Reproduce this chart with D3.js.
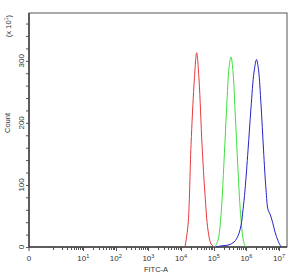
<!DOCTYPE html>
<html><head><meta charset="utf-8">
<script src="https://cdn.jsdelivr.net/npm/d3@7"></script>
<style>body{margin:0;background:#fff}svg{display:block}text{font-family:"Liberation Sans",Arial,sans-serif;fill:#333}</style>
</head><body><div id="chart"></div>
<script>
// FITC-A value, count (x10)
const redFitc   = [1.32e4,1.63e4,2.02e4,2.49e4,3.01e4,3.55e4,4.38e4,5.41e4,6.68e4,8.26e4,1.02e5];
const redCount  = [0,35,165,261,313,269,165,84,27,5,0];
const greenFitc = [1.09e5,1.35e5,1.67e5,2.07e5,2.55e5,2.94e5,3.38e5,3.89e5,4.48e5,5.53e5,6.84e5,8.45e5,9.73e5];
const greenCount= [0,11,52,140,237,289,306,282,221,124,44,6,0];
const blueFitc  = [1.17e5,1.79e5,2.74e5,4.18e5,5.53e5,6.84e5,7.87e5,9.06e5,1.12e6,1.38e6,1.71e6,2.04e6,2.35e6,2.80e6,3.34e6,3.98e6,4.59e6,5.28e6,6.31e6,7.52e6,9.29e6,1.15e7];
const blueCount = [0,2,3,8,18,35,60,92,156,224,282,302,285,229,156,92,60,53,40,24,10,0];
const yTicks = [0,100,200,300];
const xDecades = [1,2,3,4,5,6,7];

const W=292,H=275, L=29,R=287,T=13,B=247;
const svg=d3.select("#chart").append("svg").attr("width",W).attr("height",H);
const x=d3.scaleSymlog().constant(0.222).domain([0,1.745e7]).range([L,R]);
const y=d3.scaleLinear().domain([0,377]).range([B,T]);

// frame
svg.append("rect").attr("x",L).attr("y",T).attr("width",R-L).attr("height",B-T)
  .attr("fill","none").attr("stroke","#555").attr("stroke-width",1);

// y minor/major ticks
const yMinor=d3.range(0,377,20);
svg.selectAll(".ym").data(yMinor).join("line")
  .attr("x1",L-3).attr("x2",L).attr("y1",d=>y(d)+0.5).attr("y2",d=>y(d)+0.5)
  .attr("stroke","#555");
svg.selectAll(".yl").data(yTicks).join("text")
  .attr("transform",d=>`translate(23.5,${y(d)}) rotate(-90)`)
  .attr("text-anchor","middle").attr("font-size",8).text(d=>d);

// x ticks
const xMinor=[];
for(let k=0;k<7;k++) for(let m=1;m<10;m++) xMinor.push(m*Math.pow(10,k));
xMinor.push(1e7);
svg.selectAll(".xm").data(xMinor).join("line")
  .attr("x1",d=>Math.round(x(d))+0.5).attr("x2",d=>Math.round(x(d))+0.5)
  .attr("y1",B).attr("y2",d=>Math.log10(d)%1===0&&d>=10?B+4:B+3)
  .attr("stroke","#555");
svg.append("line").attr("x1",L).attr("x2",L).attr("y1",B).attr("y2",B+4).attr("stroke","#555");
svg.append("text").attr("x",L).attr("y",261).attr("text-anchor","middle").attr("font-size",8).text("0");
const xl=svg.selectAll(".xl").data(xDecades).join("text")
  .attr("x",d=>x(Math.pow(10,d))).attr("y",261).attr("text-anchor","middle").attr("font-size",8);
xl.append("tspan").text("10");
xl.append("tspan").attr("dy",-3).attr("font-size",5.5).text(d=>d);

// axis lines thicker
svg.append("line").attr("x1",L).attr("x2",R).attr("y1",B).attr("y2",B).attr("stroke","#444").attr("stroke-width",1.5);
svg.append("line").attr("x1",L).attr("x2",L).attr("y1",T).attr("y2",B).attr("stroke","#444").attr("stroke-width",1.5);

// labels
svg.append("text").attr("x",156).attr("y",272).attr("text-anchor","middle").attr("font-size",7.5).text("FITC-A");
svg.append("text").attr("transform","translate(10,123) rotate(-90)").attr("text-anchor","middle").attr("font-size",7.5).text("Count");
const ex=svg.append("text").attr("transform","translate(10.5,26) rotate(-90)").attr("text-anchor","middle").attr("font-size",7.5);
ex.append("tspan").text("(x 10");
ex.append("tspan").attr("dy",-3).attr("font-size",5.5).text("1");
ex.append("tspan").attr("dy",3).text(")");

// curves
const line=d3.line().x(d=>x(d[0])).y(d=>y(d[1])).curve(d3.curveCatmullRom);
const series=[[redFitc,redCount,"#e8383d"],[greenFitc,greenCount,"#3ee03e"],[blueFitc,blueCount,"#2424c8"]];
series.forEach(([f,c,col])=>{
  svg.append("path").datum(d3.zip(f,c)).attr("d",line).attr("fill","none").attr("stroke",col).attr("stroke-width",1);
});
</script></body></html>
